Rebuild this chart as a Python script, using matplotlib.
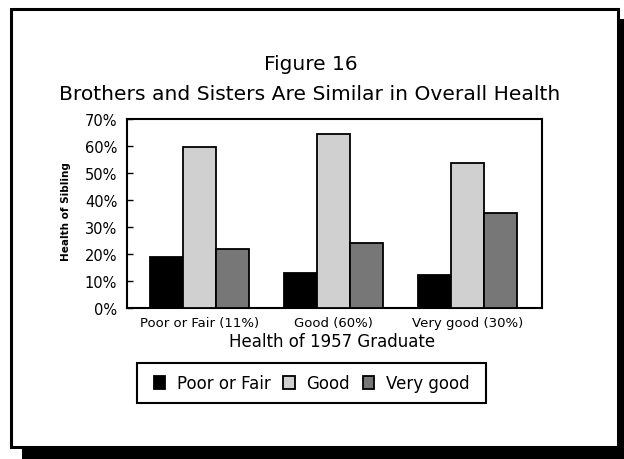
import matplotlib
matplotlib.use("Agg")
import matplotlib.pyplot as plt
from matplotlib.patches import Rectangle
import numpy as np

plt.rcParams['font.family'] = ['DejaVu Sans']

categories = ["Poor or Fair (11%)", "Good (60%)", "Very good (30%)"]
series_names = ["Poor or Fair", "Good", "Very good"]
poor_fair = [19.0, 13.1, 12.2]
good = [59.5, 64.2, 53.7]
very_good = [21.7, 23.9, 35.0]
yticks = [0, 10, 20, 30, 40, 50, 60, 70]
ytick_labels = ["0%", "10%", "20%", "30%", "40%", "50%", "60%", "70%"]
colors = ["#000000", "#d0d0d0", "#777777"]

W, H = 624, 460
fig = plt.figure(figsize=(W / 100, H / 100), dpi=100)
fig.patch.set_facecolor("white")

def px(x, y):
    return x / W, 1 - y / H

# shadow + frame
fig.add_artist(Rectangle(px(22, 470), (640 - 22) / W, (470 - 20) / H,
                         transform=fig.transFigure, facecolor="black",
                         edgecolor="none", zorder=0))
fig.add_artist(Rectangle(px(10.5, 448), (618 - 10.5) / W, (448 - 10) / H,
                         transform=fig.transFigure, facecolor="white",
                         edgecolor="black", linewidth=2.2, zorder=0.5))

left, right, top, bottom = 127, 542, 119.5, 309
ax = fig.add_axes([left / W, 1 - bottom / H, (right - left) / W, (bottom - top) / H])
ax.set_facecolor("white")
ax.set_zorder(2)

x = np.arange(len(categories))
bw = 0.246
series = [poor_fair, good, very_good]
for i, (vals, name, c) in enumerate(zip(series, series_names, colors)):
    ax.bar(x + (i - 1) * bw, vals, width=bw, color=c, edgecolor="black",
           linewidth=1.3, label=name, zorder=3)

ax.set_xlim(-0.541, 2.556)
ax.set_ylim(0, 70)
ax.set_yticks(yticks)
ax.set_yticklabels(ytick_labels, fontsize=10.5)
ax.set_xticks(x)
ax.set_xticklabels(categories, fontsize=9.5)
ax.tick_params(axis="y", direction="in", length=4, width=1, pad=7)
ax.tick_params(axis="x", direction="in", length=3, width=1, pad=6)
for s in ax.spines.values():
    s.set_linewidth(1.5)
    s.set_color("black")

fig.text(*px(311, 70), "Figure 16", ha="center", va="baseline", fontsize=14.5)
fig.text(*px(310, 100), "Brothers and Sisters Are Similar in Overall Health",
         ha="center", va="baseline", fontsize=14.6)
fig.text(*px(332, 347), "Health of 1957 Graduate", ha="center", va="baseline",
         fontsize=12)
fig.text(*px(66, 212), "Health of Sibling", ha="center", va="center",
         rotation=90, fontsize=7.5, fontweight="bold")

# legend box
fig.add_artist(Rectangle(px(137, 404), (486 - 137) / W, (404 - 364) / H,
                         transform=fig.transFigure, facecolor="white",
                         edgecolor="black", linewidth=1.5, zorder=2.5))
handles, labels = ax.get_legend_handles_labels()
leg = fig.legend(handles, labels, loc="center", bbox_to_anchor=px(311.5, 384),
                 ncol=3, fontsize=12, frameon=False,
                 borderpad=0.3, handlelength=0.7,
                 handleheight=0.8, handletextpad=0.7, columnspacing=0.75,
                 borderaxespad=0)
leg.set_zorder(3)

fig.savefig("out.png", dpi=100, facecolor="white")
